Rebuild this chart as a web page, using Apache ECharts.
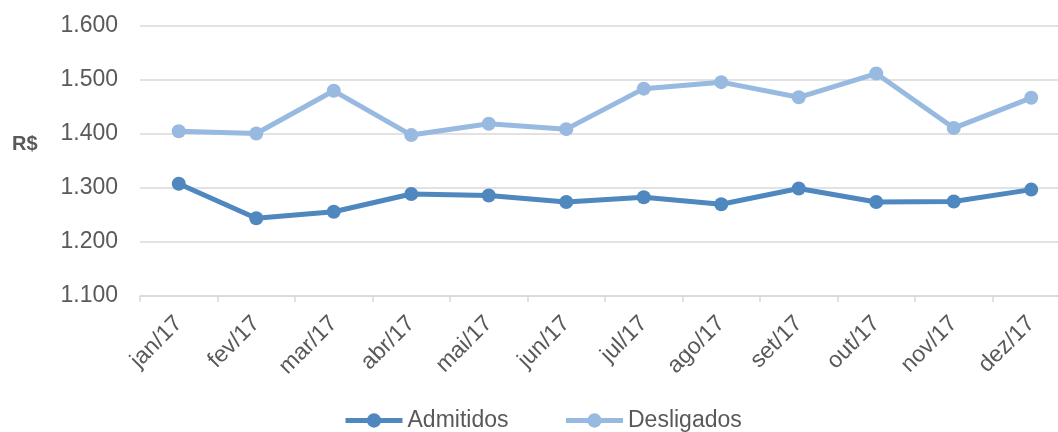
<!DOCTYPE html>
<html>
<head>
<meta charset="utf-8">
<script src="https://cdn.jsdelivr.net/npm/echarts@6/dist/echarts.min.js"></script>
<style>html,body{margin:0;padding:0;background:#fff;overflow:hidden;width:1058px;height:432px}#c{width:1070px;height:432px}</style>
</head>
<body>
<div id="c"></div>
<script>
var categories = ['jan/17','fev/17','mar/17','abr/17','mai/17','jun/17','jul/17','ago/17','set/17','out/17','nov/17','dez/17'];
var admitidos = [1308, 1244, 1256, 1289, 1286, 1274, 1283, 1270, 1299, 1274, 1275, 1297];
var desligados = [1405, 1401, 1480, 1398, 1419, 1409, 1484, 1496, 1468, 1512, 1411, 1467];
var yMin = 1100, yMax = 1600, yStep = 100;

function fmt(v){ return String(v).replace(/\B(?=(\d{3})+(?!\d))/g, '.'); }

var chart = echarts.init(document.getElementById('c'), null, {renderer:'canvas'});
var font = 'Liberation Sans, Arial, sans-serif';
chart.setOption({
  animation: false,
  grid: {left: 140, right: 0, top: 26, bottom: 136, containLabel: false},
  legend: {
    left: 343, top: 409, padding: 0,
    itemWidth: 57, itemHeight: 18, itemGap: 55,
    lineStyle: {width: 5},
    textStyle: {fontFamily: font, fontSize: 23, color: '#595959'},
    data: ['Admitidos','Desligados']
  },
  graphic: [{
    type: 'text', left: 12, top: 134,
    style: {text: 'R$', font: 'bold 20px Liberation Sans, Arial, sans-serif', fill: '#595959'}
  }],
  xAxis: {
    type: 'category', data: categories, boundaryGap: true,
    axisLine: {lineStyle: {color: '#d9d9d9', width: 1.5}},
    axisTick: {show: true, length: 6, lineStyle: {color: '#d9d9d9', width: 1.5}},
    axisLabel: {rotate: 45, margin: 24, fontFamily: font, fontSize: 23, color: '#595959', interval: 0}
  },
  yAxis: {
    type: 'value', min: yMin, max: yMax, interval: yStep,
    axisLine: {show: false}, axisTick: {show: false},
    splitLine: {lineStyle: {color: '#d9d9d9', width: 1.5}},
    axisLabel: {margin: 22, fontFamily: font, fontSize: 23, color: '#595959', formatter: fmt}
  },
  series: [
    {name: 'Admitidos', type: 'line', data: admitidos, symbol: 'circle', symbolSize: 14,
     lineStyle: {color: '#4e88bf', width: 5}, itemStyle: {color: '#4e88bf'}},
    {name: 'Desligados', type: 'line', data: desligados, symbol: 'circle', symbolSize: 14,
     lineStyle: {color: '#98bae0', width: 5}, itemStyle: {color: '#98bae0'}}
  ]
});
</script>
</body>
</html>
